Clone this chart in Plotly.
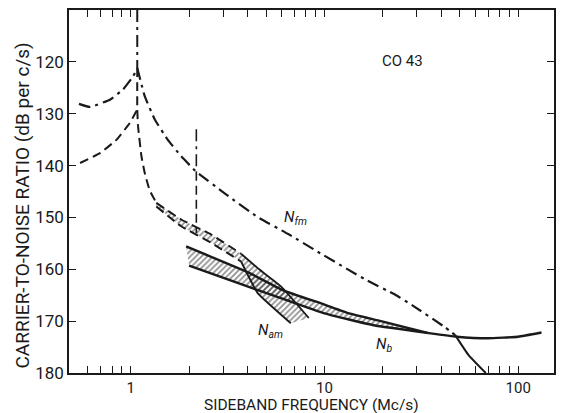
import numpy as np
import plotly.graph_objects as go

# Noise curves for CO 43: sideband frequency (Mc/s) vs carrier-to-noise ratio (dB per c/s)

# N_fm: dash-dot curve (rises to a cusp near 1.08 Mc/s, then falls off)
fm_left_f = [0.54, 0.615, 0.78, 0.913, 1.028, 1.08]
fm_left_db = [128.1, 128.7, 127.3, 125.3, 122.8, 121.2]
fm_right_f = [1.08, 1.18, 1.33, 1.55, 1.82, 2.18, 3.04, 4.5, 6.5, 9.5, 16.3, 23.2, 28.3, 42.0, 47.3]
fm_right_db = [121.2, 126.6, 131.1, 135.0, 138.2, 141.2, 145.3, 149.9, 153.2, 156.9, 162.0, 164.9, 166.9, 171.2, 172.7]
fm_tail_f = [47.3, 55.3, 68.0]
fm_tail_db = [172.7, 176.5, 180.0]
spike_f = [1.08, 1.08]
spike_db = [110.0, 121.2]

# Dashed curve below N_fm
dash_left_f = [0.547, 0.693, 0.845, 0.988, 1.08]
dash_left_db = [139.5, 137.6, 135.0, 131.8, 129.2]
dash_right_f = [1.08, 1.08, 1.09, 1.135, 1.18, 1.25, 1.355]
dash_right_db = [121.2, 129.2, 132.4, 138.2, 141.4, 144.7, 147.2]

# Vertical marker at 2.18 Mc/s
mark_f = [2.18, 2.18]
mark_upper_db = [133.0, 141.2]
mark_lower_db = [141.2, 153.0]

# N_am band: upper and lower edges
am_up_f = [1.355, 1.82, 2.6, 3.71, 4.6, 5.96, 8.3]
am_up_db = [147.2, 150.4, 153.3, 157.0, 160.0, 163.3, 169.4]
am_lo_f = [1.355, 1.82, 2.6, 3.71, 4.52, 6.7]
am_lo_db = [147.9, 151.7, 154.9, 158.5, 164.6, 170.4]

# N_b band: upper and lower edges, then single line
b_up_f = [1.93, 4.09, 6.07, 10.0, 13.4, 19.1, 34.5]
b_up_db = [155.6, 160.7, 164.0, 166.8, 168.5, 169.9, 172.3]
b_lo_f = [2.0, 4.0, 6.0, 10.0, 18.0, 34.5]
b_lo_db = [159.3, 163.3, 165.6, 168.5, 170.8, 172.3]
b_tail_f = [34.5, 48.2, 70.0, 100.0, 132.0]
b_tail_db = [172.3, 173.0, 173.3, 173.0, 172.2]

# Axis ticks
x_major = [1, 10, 100]
x_major_text = ["1", "10", "100"]
x_minor = [0.6, 0.7, 0.8, 0.9, 2, 3, 4, 5, 6, 7, 8, 9,
           20, 30, 40, 50, 60, 70, 80, 90]
y_tickvals = [110, 120, 130, 140, 150, 160, 170, 180]

DASHDOT = "12px,5px,3px,5px"
DASHED = "9px,5px"
BLACK = "#1a1a1a"

fig = go.Figure()


def line(f, db, dash="solid", width=2.2, smooth=0.35):
    fig.add_trace(go.Scatter(x=f, y=db, mode="lines",
                             line=dict(color=BLACK, width=width, dash=dash,
                                       shape="spline", smoothing=smooth),
                             hoverinfo="skip", showlegend=False))


def band(up_f, up_db, lo_f, lo_db):
    fig.add_trace(go.Scatter(x=list(up_f) + list(lo_f)[::-1], y=list(up_db) + list(lo_db)[::-1],
                             mode="lines", fill="toself", line=dict(width=0),
                             fillcolor="rgba(0,0,0,0)",
                             fillpattern=dict(shape="/", fgcolor="#222", bgcolor="rgba(255,255,255,0)",
                                              size=4, solidity=0.45),
                             hoverinfo="skip", showlegend=False))


# hatched bands
band(b_up_f, b_up_db, b_lo_f, b_lo_db)
band(am_up_f, am_up_db, am_lo_f, am_lo_db)

# N_b band edges and tail
line(b_up_f, b_up_db, width=2.4)
line(b_lo_f, b_lo_db, width=2.4)
line(b_tail_f, b_tail_db, width=2.4)

# N_am band edges
line(am_up_f[:4], am_up_db[:4], DASHED, 2.0)
line(am_lo_f[:4], am_lo_db[:4], DASHED, 2.0)
line(am_up_f[3:], am_up_db[3:], width=1.8)
line(am_lo_f[3:], am_lo_db[3:], width=1.8)

# N_fm curve
line(fm_left_f, fm_left_db, DASHDOT, 2.2)
line(fm_right_f, fm_right_db, DASHDOT, 2.2)
line(fm_tail_f, fm_tail_db, width=2.0)
line(spike_f, spike_db, DASHDOT, 2.0)

# dashed curve
line(dash_left_f, dash_left_db, DASHED, 2.0)
line(dash_right_f, dash_right_db, DASHED, 2.0)

# vertical marker at 2.18 Mc/s
line(mark_f, mark_upper_db, DASHDOT, 1.6)
line(mark_f, mark_lower_db, DASHED, 1.6)

FONT = "Roboto, Liberation Sans, sans-serif"

labels = [
    (25.3, 119.9, "CO 43", 15),
    (7.05, 150.1, "<i>N</i><sub><i>fm</i></sub>", 15),
    (5.25, 171.9, "<i>N</i><sub><i>am</i></sub>", 15),
    (20.2, 174.6, "<i>N</i><sub><i>b</i></sub>", 15),
]
for fx, db, txt, size in labels:
    fig.add_annotation(x=np.log10(fx), y=db, xref="x", yref="y", text=txt, showarrow=False,
                       font=dict(family=FONT, size=size, color=BLACK))

axis_common = dict(showline=True, linecolor=BLACK, linewidth=1.6, mirror="ticks",
                   ticks="inside", ticklen=7, tickwidth=1.4, tickcolor=BLACK,
                   showgrid=False, zeroline=False)

fig.update_layout(
    width=563, height=413,
    margin=dict(l=69, r=7, t=10, b=40),
    paper_bgcolor="white", plot_bgcolor="white",
    xaxis=dict(type="log", range=[-0.319, 2.185], tickmode="array",
               tickvals=x_major, ticktext=x_major_text,
               minor=dict(tickmode="array", tickvals=x_minor, ticks="inside", ticklen=7,
                          tickwidth=1.4, tickcolor=BLACK, showgrid=False),
               ticklabelstandoff=0, tickfont=dict(family=FONT, size=15, color=BLACK), **axis_common),
    yaxis=dict(range=[180, 110], tickvals=y_tickvals,
               tickfont=dict(family=FONT, size=17, color=BLACK), **axis_common),
)

fig.add_annotation(x=0.5, y=0, xref="paper", yref="paper", xanchor="center", yanchor="top",
                   yshift=-21, text="SIDEBAND FREQUENCY (Mc/s)", showarrow=False,
                   font=dict(family=FONT, size=15.5, color=BLACK))
fig.add_annotation(x=0, y=0.5, xref="paper", yref="paper", xanchor="center", yanchor="middle",
                   xshift=-47, yshift=-14, textangle=-90, text="CARRIER-TO-NOISE RATIO (dB per c/s)",
                   showarrow=False, font=dict(family=FONT, size=19, color=BLACK))

fig.write_html("out.html")
